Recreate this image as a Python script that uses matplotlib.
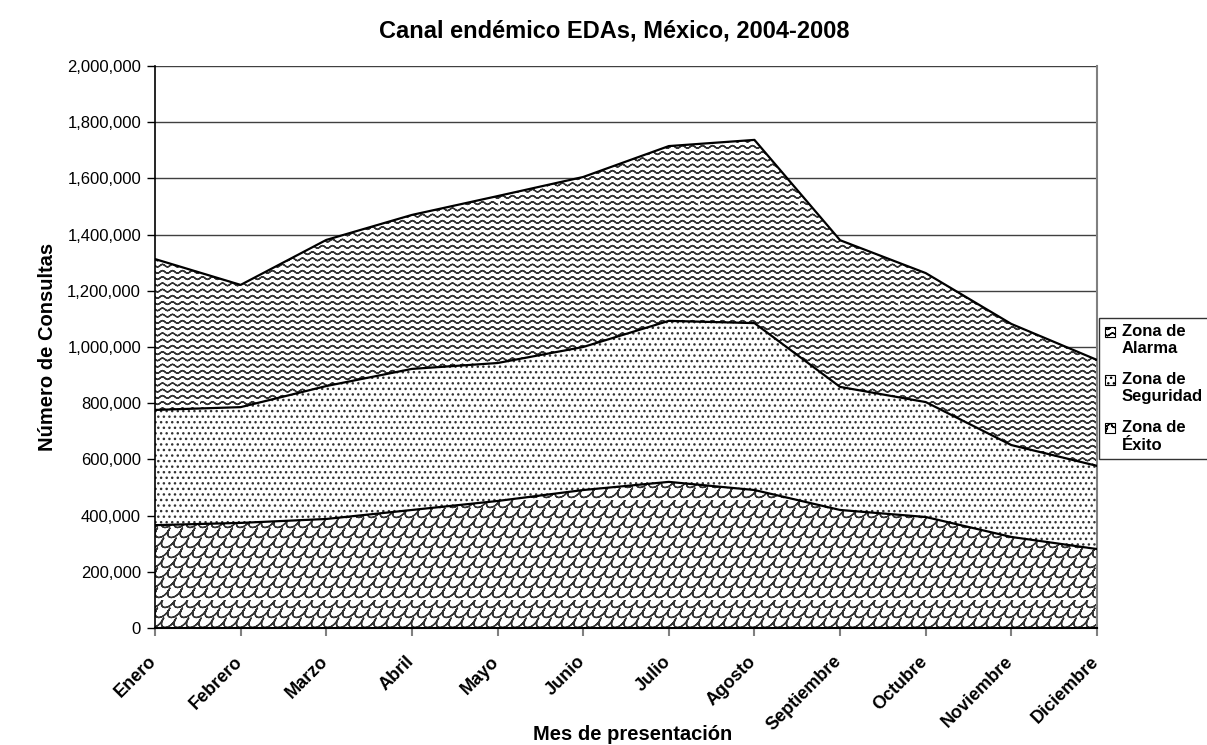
import numpy as np
import matplotlib
matplotlib.use('Agg')
import matplotlib.pyplot as plt
import matplotlib.hatch as mhatch
import matplotlib.transforms as mtransforms
from matplotlib.path import Path
from matplotlib.patches import Rectangle
from matplotlib.legend_handler import HandlerPatch
from matplotlib.ticker import FuncFormatter

# data (upper edge of each zone)
meses = ['Enero', 'Febrero', 'Marzo', 'Abril', 'Mayo', 'Junio', 'Julio',
         'Agosto', 'Septiembre', 'Octubre', 'Noviembre', 'Diciembre']
exito = [366000, 374000, 388000, 420000, 452000, 491000, 520000,
         491000, 420000, 395000, 324000, 281000]
seguridad = [776000, 786000, 861000, 922000, 943000, 1000000, 1093000,
             1085000, 858000, 804000, 651000, 577000]
alarma = [1313000, 1221000, 1381000, 1470000, 1537000, 1605000, 1715000,
          1737000, 1380000, 1263000, 1082000, 954000]


def retrace(px, py):
    # go along the polyline and back, so the hatch fill adds no area
    return (np.concatenate([px, px[-2::-1]]),
            np.concatenate([py, py[-2::-1]]))


# custom hatches: wavy lines replace '-', shingles replace '|'
class WavyHatch(mhatch.HatchPatternBase):
    rows, waves, seg, amp = 16, 10, 8, 0.013

    def __init__(self, hatch, density):
        self.num_lines = self.rows if '-' in hatch else 0
        self.npts = 2 * (self.waves * self.seg + 1) - 1
        self.num_vertices = self.num_lines * self.npts

    def set_vertices_and_codes(self, vertices, codes):
        x = np.linspace(0, 1, self.waves * self.seg + 1)
        wave = self.amp * np.sin(2 * np.pi * self.waves * x)
        for i in range(self.num_lines):
            vx, vy = retrace(x, (i + 0.5) / self.num_lines + wave)
            s = slice(i * self.npts, (i + 1) * self.npts)
            vertices[s, 0] = vx
            vertices[s, 1] = vy
            codes[s] = Path.LINETO
            codes[i * self.npts] = Path.MOVETO


class ScaleHatch(mhatch.HatchPatternBase):
    rows, cols, n = 10, 8, 13

    def __init__(self, hatch, density):
        self.n_arcs = self.rows * (self.cols + 2) if '|' in hatch else 0
        self.npts = 2 * self.n - 1
        self.num_vertices = self.n_arcs * self.npts

    def set_vertices_and_codes(self, vertices, codes):
        w = 1.0 / self.cols
        h = 1.0 / self.rows
        t = np.linspace(np.pi, 2 * np.pi, self.n)
        k = 0
        for i in range(self.rows):
            yc = (i + 1) * h
            off = (i % 2) * w / 2
            for j in range(-1, self.cols + 1):
                xc = off + j * w
                ay = yc + 0.75 * h * np.sin(t)
                ax_ = xc + (w / 2) * np.cos(t) + 0.5 * (ay - yc)
                vx, vy = retrace(ax_, ay)
                s = slice(k * self.npts, (k + 1) * self.npts)
                vertices[s, 0] = vx
                vertices[s, 1] = vy
                codes[s] = Path.LINETO
                codes[k * self.npts] = Path.MOVETO
                k += 1


mhatch._hatch_types[0] = WavyHatch
mhatch._hatch_types[1] = ScaleHatch

plt.rcParams['font.family'] = ['Liberation Sans', 'DejaVu Sans']
plt.rcParams['hatch.color'] = '#333333'
plt.rcParams['hatch.linewidth'] = 1.0

x = np.arange(len(meses))
fig = plt.figure(figsize=(12.07, 7.45), dpi=100)
ax = fig.add_axes([155 / 1207, 117 / 745, 942 / 1207, 562 / 745])

zonas = [
    (np.zeros(len(x)), exito, '|', 'Zona de\nÉxito'),
    (exito, seguridad, '...', 'Zona de\nSeguridad'),
    (seguridad, alarma, '-', 'Zona de\nAlarma'),
]
handles = []
for lo, hi, h, lab in zonas:
    ax.fill_between(x, lo, hi, facecolor='white', edgecolor='#333333',
                    hatch=h, linewidth=0, zorder=2)
    ax.plot(x, hi, color='black', lw=1.6, zorder=3)
    handles.append(Rectangle((0, 0), 1, 1, facecolor='white',
                             edgecolor='black', hatch=h, lw=0.8))

ax.set_xlim(0, len(x) - 1)
ax.set_ylim(0, 2000000)
ax.set_yticks(np.arange(0, 2000001, 200000))
ax.yaxis.set_major_formatter(FuncFormatter(lambda v, p: '{:,.0f}'.format(v)))
ax.grid(axis='y', color='#404040', lw=1.0, zorder=1)
ax.set_axisbelow(True)
ax.set_xticks(x)
ax.set_xticklabels(meses, rotation=45, ha='right', va='top',
                   rotation_mode='anchor', fontsize=13, fontweight='bold')
ax.tick_params(axis='y', labelsize=12, length=6, width=1, pad=4)
ax.tick_params(axis='x', length=6, width=1.5, color='#808080', pad=12)
shift = mtransforms.ScaledTranslation(-7 / 100, 0, fig.dpi_scale_trans)
for lbl in ax.get_xticklabels():
    lbl.set_transform(lbl.get_transform() + shift)

ax.spines['top'].set_visible(False)
ax.spines['right'].set_color('#808080')
ax.spines['right'].set_linewidth(1.5)
ax.spines['left'].set_linewidth(1.2)
ax.spines['bottom'].set_linewidth(1.5)

fig.text(614 / 1207, 1 - 31 / 745, 'Canal endémico EDAs, México, 2004-2008',
         ha='center', va='center', fontsize=17, fontweight='bold')
fig.text(633 / 1207, 1 - 735 / 745, 'Mes de presentación',
         ha='center', va='center', fontsize=14.5, fontweight='bold')
fig.text(48 / 1207, 1 - 347 / 745, 'Número de Consultas', rotation=90,
         ha='center', va='center', fontsize=14.5, fontweight='bold')


def top_box(legend, orig_handle, xdescent, ydescent, width, height, fontsize):
    # small square level with the first line of the label
    s = 0.62 * fontsize
    return Rectangle((-xdescent, -ydescent + 0.55 * fontsize), s, s)


leg = fig.legend(handles[::-1], [z[3] for z in zonas][::-1],
                 loc='upper left', bbox_to_anchor=(1099 / 1207, 1 - 318 / 745),
                 prop={'weight': 'bold', 'size': 12}, frameon=True,
                 fancybox=False, handlelength=0.7, handleheight=0.7,
                 handletextpad=0.3, labelspacing=0.95, borderpad=0.35,
                 borderaxespad=0,
                 handler_map={Rectangle: HandlerPatch(patch_func=top_box)})
leg.get_frame().set_edgecolor('black')
leg.get_frame().set_linewidth(1.0)

fig.savefig('out.png', dpi=100)
